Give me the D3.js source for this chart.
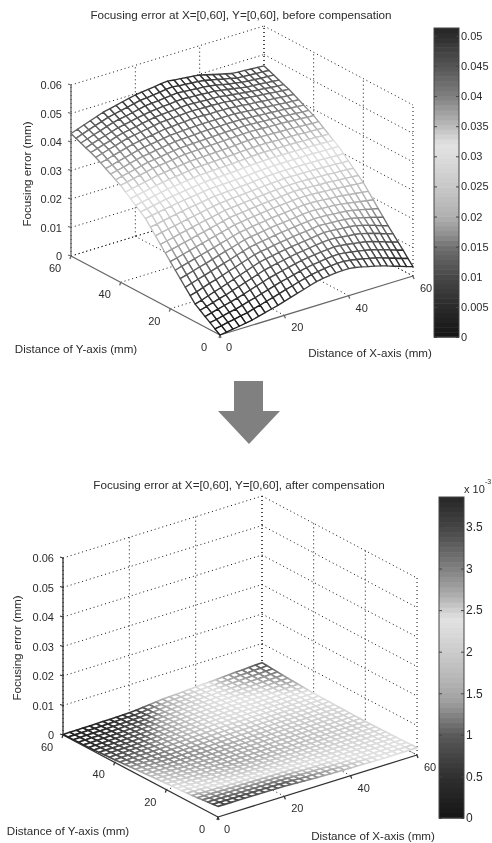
<!DOCTYPE html>
<html>
<head>
<meta charset="utf-8">
<script src="https://cdnjs.cloudflare.com/ajax/libs/d3/7.8.5/d3.min.js"></script>
<style>
  html, body { margin: 0; padding: 0; background: #fff; }
  svg { display: block; filter: blur(0.55px); }
  text { font-family: "Liberation Sans", Arial, sans-serif; fill: #2b2b2b; }
</style>
</head>
<body>
<script>
// mesh positions in mm, same for x and y
const gridMm = [0,2,4,6,8,10,12,14,16,18,20,22,24,26,28,30,32,34,36,38,40,42,44,46,48,50,52,54,56,58,60];
const axisTicks = [0,20,40,60];
const zTicks = [0,0.01,0.02,0.03,0.04,0.05,0.06];

// before compensation, in 1e-4 mm. one row per y (0 to 60), one column per x
const zBefore = [
[0,3,7,10,14,18,24,30,36,42,49,56,63,70,77,84,88,91,94,95,95,92,87,81,76,70,63,55,48,40,33],
[12,16,21,25,30,34,41,47,54,60,67,74,80,87,93,99,103,106,109,111,111,108,104,99,94,89,82,74,67,59,52],
[25,29,35,40,45,51,58,64,71,78,85,92,97,103,109,114,118,121,124,126,127,125,121,117,113,108,101,94,87,79,72],
[37,43,49,55,61,67,74,82,89,96,104,109,115,120,125,130,133,136,139,141,143,141,138,134,131,127,121,113,106,98,91],
[50,56,63,70,76,84,91,99,106,114,122,127,132,136,141,145,148,151,154,157,159,158,155,152,150,146,140,133,126,118,111],
[62,69,77,85,92,100,108,116,124,132,140,145,149,153,157,160,163,166,169,172,175,174,172,170,168,165,159,152,145,137,130],
[83,89,97,105,111,119,127,134,142,149,157,162,165,169,173,176,179,182,184,187,190,189,187,186,184,181,176,170,164,157,151],
[103,110,117,124,131,138,145,152,160,167,174,178,182,185,189,192,195,197,200,202,205,204,203,201,199,197,193,188,183,177,172],
[124,130,137,144,150,157,164,171,177,184,191,195,198,202,205,208,210,213,215,218,220,220,218,217,215,213,209,205,201,197,193],
[144,151,157,163,170,176,182,189,195,202,208,211,215,218,221,224,226,228,231,233,235,235,234,232,230,229,226,223,220,217,214],
[165,171,177,183,189,195,201,207,213,219,225,228,231,234,237,240,242,244,246,248,250,250,249,248,246,245,243,241,239,237,235],
[186,192,197,203,208,214,219,225,230,236,241,244,246,249,251,254,256,258,260,262,264,264,263,262,260,260,258,256,255,253,251],
[207,212,217,223,228,233,238,243,247,252,257,259,261,264,266,268,270,272,274,276,277,277,277,276,275,274,273,271,270,269,267],
[228,233,238,242,247,252,256,260,265,269,273,275,277,278,280,282,284,286,288,289,291,291,290,290,289,289,288,287,286,284,284],
[249,253,258,262,267,271,275,278,282,285,289,290,292,293,295,296,298,300,302,303,304,304,304,304,304,303,303,302,301,300,300],
[270,274,278,282,286,290,293,296,299,302,305,306,307,308,309,310,312,314,316,317,318,318,318,318,318,318,318,317,317,316,316],
[284,288,292,297,301,305,308,311,314,317,320,321,322,323,324,325,327,329,330,331,332,332,332,332,332,331,331,330,330,329,328],
[298,302,307,311,316,320,323,326,329,332,335,336,337,338,339,340,342,343,345,346,347,346,346,346,345,345,344,343,343,341,341],
[312,317,321,326,330,335,338,341,344,347,350,351,352,353,354,355,356,358,359,360,361,361,360,359,359,358,358,356,355,354,353],
[326,331,336,340,345,350,353,356,359,362,365,366,367,368,369,370,371,372,374,375,376,375,374,373,372,372,371,369,368,366,366],
[340,345,350,355,360,365,368,371,374,377,380,381,382,383,384,385,386,387,388,389,390,389,388,387,386,385,384,382,381,379,378],
[350,356,361,366,372,377,380,383,387,390,393,394,395,396,397,398,399,400,400,401,402,400,399,398,396,395,394,392,390,388,387],
[361,367,372,378,384,389,392,396,399,403,406,407,408,409,411,412,412,412,413,413,413,411,410,408,407,405,404,402,400,398,396],
[371,377,384,389,395,401,405,408,412,415,419,420,422,423,424,425,425,425,425,425,425,423,421,419,417,415,413,411,409,407,406],
[382,388,395,401,407,413,417,421,424,428,432,433,435,436,438,439,438,437,438,437,436,434,432,429,428,425,423,421,419,417,415],
[392,399,406,412,419,425,429,433,437,441,445,446,448,449,451,452,451,450,450,449,448,445,443,440,438,435,433,431,428,426,424],
[400,407,414,420,428,434,438,442,447,451,455,457,459,460,462,464,462,461,460,459,458,454,451,448,445,442,440,438,435,433,431],
[407,415,422,429,436,443,447,452,457,461,465,467,470,471,474,475,473,472,471,469,468,464,460,456,452,448,446,445,442,440,438],
[415,422,430,437,445,452,457,461,466,471,476,478,480,483,485,487,485,483,481,480,477,473,468,463,460,455,453,451,449,448,446],
[422,430,438,446,453,461,466,471,476,481,486,488,491,494,497,499,496,494,492,490,487,482,477,471,467,461,459,458,456,455,453],
[430,438,446,454,462,470,475,480,486,491,496,499,502,505,508,510,507,505,502,500,497,491,485,479,474,468,466,465,463,462,460]
];

// after compensation, in 1e-5 mm
const zAfter = [
[360,358,356,354,352,350,348,346,344,342,340,330,320,310,300,290,284,278,272,266,260,256,252,248,244,240,242,244,246,248,250],
[341,338,336,333,331,328,326,324,322,320,318,310,302,293,285,277,272,267,262,257,252,249,246,242,239,236,238,240,241,243,245],
[322,319,316,312,309,306,304,302,300,298,296,290,283,277,270,264,260,256,252,248,244,242,239,237,234,232,234,235,237,238,240],
[303,299,295,292,288,284,282,280,278,276,274,269,265,260,256,251,248,245,242,239,236,234,233,231,230,228,229,231,232,234,235],
[284,280,275,271,266,262,260,258,256,254,252,249,246,244,241,238,236,234,232,230,228,227,226,226,225,224,225,226,228,229,230],
[265,260,255,250,245,240,238,236,234,232,230,229,228,227,226,225,224,223,222,221,220,220,220,220,220,220,221,222,223,224,225],
[254,249,243,238,232,227,224,222,219,217,214,214,213,213,212,212,212,212,212,212,212,213,213,214,214,215,216,218,219,221,222],
[243,237,231,226,220,214,211,208,204,201,198,198,198,199,199,199,200,201,202,203,204,205,206,208,209,210,212,214,215,217,219],
[232,226,220,213,207,201,197,193,190,186,182,183,184,184,185,186,188,190,192,194,196,198,200,201,203,205,207,209,212,214,216],
[221,214,208,201,195,188,184,179,175,170,166,167,169,170,172,173,176,179,182,185,188,190,193,195,198,200,203,205,208,210,213],
[210,203,196,189,182,175,170,165,160,155,150,152,154,156,158,160,164,168,172,176,180,183,186,189,192,195,198,201,204,207,210],
[198,191,185,178,172,165,161,158,154,151,147,150,153,155,158,161,165,169,174,178,182,185,188,191,194,197,200,203,206,209,212],
[186,180,174,167,161,155,153,151,148,146,144,148,151,155,158,162,166,171,175,180,184,187,190,193,196,199,202,205,208,211,214],
[174,168,162,157,151,145,144,143,143,142,141,145,150,154,159,163,168,172,177,181,186,189,192,195,198,201,204,207,210,213,216],
[162,157,151,146,140,135,136,136,137,137,138,143,149,155,159,164,169,174,178,183,188,191,194,197,200,203,206,209,212,215,218],
[150,145,140,135,130,125,127,129,131,133,135,141,147,153,159,165,170,175,180,185,190,193,196,199,202,205,208,211,214,217,220],
[138,135,132,129,126,123,127,130,134,137,141,148,155,162,169,176,181,185,190,194,199,201,203,205,207,209,212,215,218,221,224],
[126,125,124,123,122,121,126,131,137,142,147,155,163,171,179,187,191,195,200,204,208,209,210,211,212,213,216,219,222,225,228],
[114,115,116,117,118,119,126,133,139,146,153,162,171,180,189,198,202,206,209,213,217,217,217,217,217,217,220,223,226,229,232],
[102,105,108,111,114,117,125,134,142,151,159,169,179,189,199,209,212,216,219,223,226,225,224,223,222,221,224,227,230,233,236],
[90,95,100,105,110,115,125,135,145,155,165,176,187,198,209,220,223,226,229,232,235,233,231,229,227,225,228,231,234,237,240],
[80,85,90,96,101,106,116,127,137,148,158,170,182,193,205,217,221,225,228,232,236,235,234,232,231,230,234,238,241,245,249],
[70,75,81,86,92,97,108,119,129,140,151,164,176,189,201,214,219,223,228,232,237,237,236,236,235,235,240,244,249,253,258],
[60,66,71,77,82,88,99,110,122,133,144,157,171,184,198,211,216,222,227,233,238,238,239,239,240,240,245,251,256,262,267],
[50,56,62,67,73,79,91,102,114,125,137,151,165,180,194,208,214,220,227,233,239,240,241,243,244,245,251,257,264,270,276],
[40,46,52,58,64,70,82,94,106,118,130,145,160,175,190,205,212,219,226,233,240,242,244,246,248,250,257,264,271,278,285],
[36,41,46,52,57,62,72,83,93,104,114,130,147,163,180,196,204,212,221,229,237,241,245,250,254,258,266,274,282,290,298],
[32,36,41,45,50,54,63,72,80,89,98,116,134,151,169,187,196,206,215,225,234,240,247,253,260,266,275,284,293,302,311],
[28,32,35,39,42,46,53,60,68,75,82,101,120,140,159,178,189,199,210,220,231,240,248,257,265,274,284,294,304,314,324],
[24,27,30,32,35,38,44,49,55,60,66,87,107,128,148,169,181,193,205,216,228,239,250,260,271,282,293,304,315,326,337],
[20,22,24,26,28,30,34,38,42,46,50,72,94,116,138,160,173,186,199,212,225,238,251,264,277,290,302,314,326,338,350]
];

// colormaps
const beforeStops = [0,0.005,0.01,0.015,0.017,0.02,0.025,0.03,0.032,0.036,0.04,0.045,0.05,0.0513];
const beforeGreys = ["#151515","#2a2a2a","#484848","#707070","#909090","#b0b0b0","#c8c8c8","#dcdcdc","#e2e2e2","#b0b0b0","#808080","#555555","#2e2e2e","#262626"];
const afterStops = [0,0.5,1,1.4,1.7,2.2,2.4,2.7,3,3.5,3.86];
const afterGreys = ["#151515","#303030","#5a5a5a","#a0a0a0","#b8b8b8","#d8d8d8","#e2e2e2","#aaaaaa","#808080","#444444","#262626"];
const beforeBarTicks = [0,0.005,0.01,0.015,0.02,0.025,0.03,0.035,0.04,0.045,0.05];
const afterBarTicks = [0,0.5,1,1.5,2,2.5,3,3.5];

var width = 492, height = 843;
var svg = d3.select("body").append("svg").attr("width", width).attr("height", height);

function renderPanel(o) {
  var g = svg.append("g");

  // oblique projection, x and y each add a screen offset
  var xdx = d3.scaleLinear().domain([0, 60]).range([0, o.xEnd[0] - o.origin[0]]);
  var xdy = d3.scaleLinear().domain([0, 60]).range([0, o.xEnd[1] - o.origin[1]]);
  var ydx = d3.scaleLinear().domain([0, 60]).range([0, o.yEnd[0] - o.origin[0]]);
  var ydy = d3.scaleLinear().domain([0, 60]).range([0, o.yEnd[1] - o.origin[1]]);
  var zdy = d3.scaleLinear().domain([0, 0.06]).range([0, -o.zHeight]);
  function proj(x, y, z) {
    return [o.origin[0] + xdx(x) + ydx(y), o.origin[1] + xdy(x) + ydy(y) + zdy(z)];
  }
  var line = d3.line();
  function seg(a, b) { return line([a, b]); }

  // dotted grid on floor and the two back walls
  var gridLines = [];
  axisTicks.forEach(function (t) {
    gridLines.push(seg(proj(t, 60, 0), proj(t, 60, 0.06)));
    gridLines.push(seg(proj(60, t, 0), proj(60, t, 0.06)));
    if (t > 0) {
      gridLines.push(seg(proj(t, 0, 0), proj(t, 60, 0)));
      gridLines.push(seg(proj(0, t, 0), proj(60, t, 0)));
    }
  });
  zTicks.forEach(function (t) {
    gridLines.push(seg(proj(0, 60, t), proj(60, 60, t)));
    gridLines.push(seg(proj(60, 60, t), proj(60, 0, t)));
  });
  g.append("g").selectAll("path").data(gridLines).enter().append("path")
    .attr("d", function (d) { return d; })
    .attr("fill", "none")
    .attr("stroke", "#111")
    .attr("stroke-width", 1)
    .attr("stroke-dasharray", "1,3");

  // solid axes
  var axisLines = [
    seg(proj(0, 0, 0), proj(60, 0, 0)),
    seg(proj(0, 0, 0), proj(0, 60, 0)),
    seg(proj(0, 60, 0), proj(0, 60, 0.06))
  ];
  axisTicks.forEach(function (t) {
    var a = proj(t, 0, 0), b = proj(0, t, 0);
    axisLines.push(seg(a, [a[0] + 1, a[1] + 3]));
    axisLines.push(seg(b, [b[0] - 1, b[1] + 3]));
  });
  zTicks.forEach(function (t) {
    var a = proj(0, 60, t);
    axisLines.push(seg(a, [a[0] - 3, a[1] - 1]));
  });
  g.append("g").selectAll("path").data(axisLines).enter().append("path")
    .attr("d", function (d) { return d; })
    .attr("fill", "none")
    .attr("stroke", o.axisColor)
    .attr("stroke-width", 1.3);

  // mesh cells, back corner first so nearer cells cover them
  var color = d3.scaleLinear().domain(o.stops).range(o.greys);
  var cells = [];
  for (var j = 0; j < gridMm.length - 1; j++) {
    for (var i = 0; i < gridMm.length - 1; i++) {
      cells.push({i: i, j: j});
    }
  }
  cells.sort(function (a, b) { return (b.i + b.j) - (a.i + a.j); });
  function val(i, j) { return o.rows[j][i] * o.unit; }
  g.append("g").selectAll("path").data(cells).enter().append("path")
    .attr("d", function (c) {
      var i = c.i, j = c.j;
      return line([
        proj(gridMm[i], gridMm[j], val(i, j) * o.zFactor),
        proj(gridMm[i + 1], gridMm[j], val(i + 1, j) * o.zFactor),
        proj(gridMm[i + 1], gridMm[j + 1], val(i + 1, j + 1) * o.zFactor),
        proj(gridMm[i], gridMm[j + 1], val(i, j + 1) * o.zFactor)
      ]) + "Z";
    })
    .attr("fill", "#fff")
    .attr("stroke", function (c) {
      return color((val(c.i, c.j) + val(c.i + 1, c.j) + val(c.i + 1, c.j + 1) + val(c.i, c.j + 1)) / 4);
    })
    .attr("stroke-width", o.meshWidth)
    .attr("stroke-linejoin", "round");

  // tick labels
  g.append("g").selectAll("text").data(zTicks).enter().append("text")
    .attr("x", function (d) { return proj(0, 60, d)[0] - 9; })
    .attr("y", function (d) { return proj(0, 60, d)[1] + 4; })
    .attr("text-anchor", "end")
    .attr("font-size", 11)
    .text(function (d) { return d; });
  g.append("g").selectAll("text").data(axisTicks).enter().append("text")
    .attr("x", function (d) { return proj(0, d, 0)[0] - 16; })
    .attr("y", function (d) { return proj(0, d, 0)[1] + 16; })
    .attr("text-anchor", "middle")
    .attr("font-size", 11)
    .text(function (d) { return d; });
  g.append("g").selectAll("text").data(axisTicks).enter().append("text")
    .attr("x", function (d) { return proj(d, 0, 0)[0] + (d === 0 ? 9 : 13); })
    .attr("y", function (d) { return proj(d, 0, 0)[1] + 16; })
    .attr("text-anchor", "middle")
    .attr("font-size", 11)
    .text(function (d) { return d; });

  // titles
  g.append("text").attr("x", o.title[0]).attr("y", o.title[1]).attr("text-anchor", "middle")
    .attr("font-size", 11.7).text(o.titleText);
  g.append("text").attr("x", o.xLabel[0]).attr("y", o.xLabel[1]).attr("text-anchor", "middle")
    .attr("font-size", 11.6).text("Distance of X-axis (mm)");
  g.append("text").attr("x", o.yLabel[0]).attr("y", o.yLabel[1]).attr("text-anchor", "middle")
    .attr("font-size", 11.6).text("Distance of Y-axis (mm)");
  g.append("text")
    .attr("transform", "translate(" + o.zLabel[0] + "," + o.zLabel[1] + ") rotate(-90)")
    .attr("text-anchor", "middle")
    .attr("font-size", 11.6).text("Focusing error (mm)");

  // colorbar
  var bar = g.append("g").attr("transform", "translate(" + o.bar.x + ",0)");
  var barY = d3.scaleLinear().domain([0, o.barMax]).range([o.bar.bottom, o.bar.top]);
  var steps = d3.range(64);
  var bw = o.bar.w;
  bar.selectAll("rect.step").data(steps).enter().append("rect")
    .attr("class", "step")
    .attr("x", 0)
    .attr("width", bw)
    .attr("y", function (d) { return barY((d + 1) / 64 * o.barMax); })
    .attr("height", (o.bar.bottom - o.bar.top) / 64 + 0.5)
    .attr("fill", function (d) { return color((d + 0.5) / 64 * o.barMax); });
  bar.append("rect")
    .attr("y", o.bar.top).attr("width", bw).attr("height", o.bar.bottom - o.bar.top)
    .attr("fill", "none").attr("stroke", "#444");

  var right = bar.append("g").attr("transform", "translate(" + bw + ",0)")
    .call(d3.axisRight(barY).tickValues(o.barTicks).tickSize(-3).tickPadding(2).tickFormat(function (d) { return d; }));
  var left = bar.append("g")
    .call(d3.axisLeft(barY).tickValues(o.barTicks).tickSize(-3).tickFormat(""));
  [right, left].forEach(function (a) {
    a.select(".domain").remove();
    a.selectAll("line").attr("stroke", "#444");
    a.selectAll("text").attr("font-size", o.barFont).attr("font-family", null).attr("fill", null);
  });
  return g;
}

renderPanel({
  rows: zBefore, unit: 1e-4, zFactor: 1, meshWidth: 1.35,
  origin: [220, 335], xEnd: [413, 276], yEnd: [71, 256], zHeight: 171,
  axisColor: "#666",
  stops: beforeStops, greys: beforeGreys,
  titleText: "Focusing error at X=[0,60], Y=[0,60], before compensation",
  title: [241, 19], xLabel: [370, 357], yLabel: [76, 353], zLabel: [31, 174],
  bar: {x: 434, w: 25, top: 28, bottom: 337},
  barMax: 0.0513, barTicks: beforeBarTicks, barFont: 11
});

// the after surface is coloured in 1e-3 units like its colorbar, so z is scaled back down
var after = renderPanel({
  rows: zAfter, unit: 1e-2, zFactor: 1e-3, meshWidth: 1.6,
  origin: [218, 817], xEnd: [417, 755], yEnd: [63, 735], zHeight: 177,
  axisColor: "#333",
  stops: afterStops, greys: afterGreys,
  titleText: "Focusing error at X=[0,60], Y=[0,60], after compensation",
  title: [239, 489], xLabel: [373, 840], yLabel: [68, 835], zLabel: [21, 648],
  bar: {x: 439, w: 25, top: 497, bottom: 818},
  barMax: 3.86, barTicks: afterBarTicks, barFont: 12
});
after.append("text").attr("x", 464).attr("y", 493).attr("font-size", 11).text("x 10");
after.append("text").attr("x", 485).attr("y", 484).attr("font-size", 7).text("-3");

// big arrow between the two plots
svg.append("path")
  .attr("d", "M234,381H263V411H280L249,444L218,411H234Z")
  .attr("fill", "#808080");
</script>
</body>
</html>
